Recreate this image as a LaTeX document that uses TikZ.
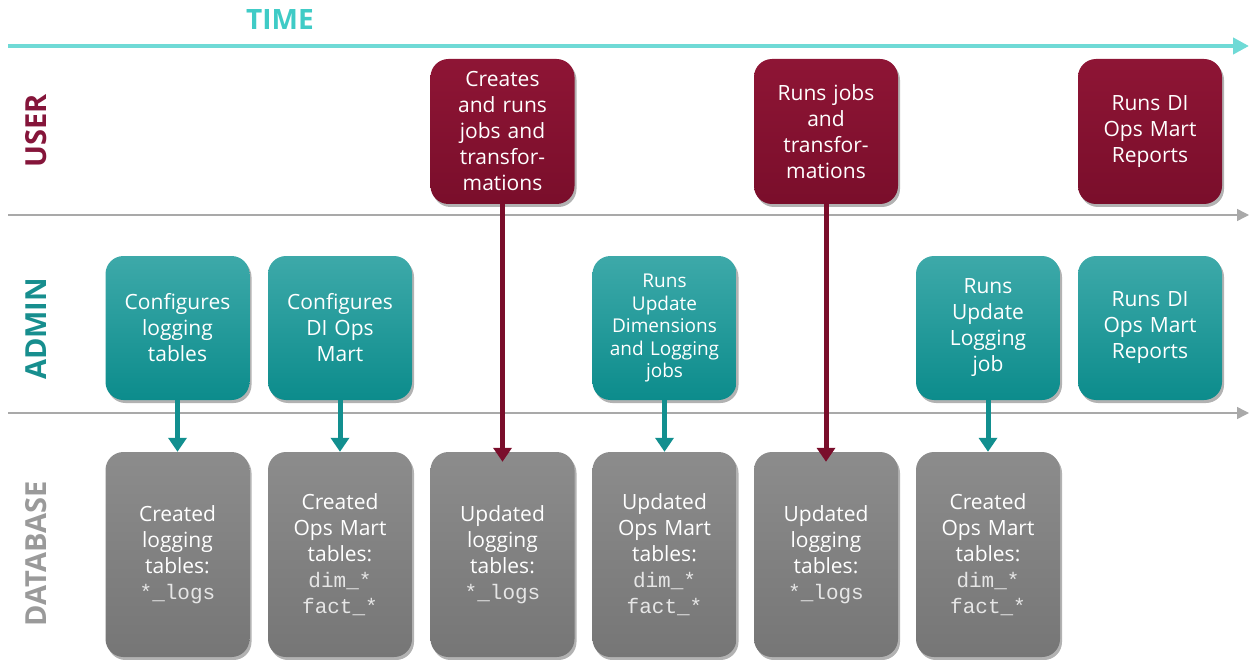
\documentclass[tikz,border=0pt]{standalone}
\usepackage{fontspec}
\setmainfont{Open Sans}
\newfontfamily\monofnt{Liberation Mono}
\usetikzlibrary{arrows.meta,shadows}
\definecolor{maroonA}{HTML}{8E1535}
\definecolor{maroonB}{HTML}{7A0E2B}
\definecolor{tealA}{HTML}{3DA9A9}
\definecolor{tealB}{HTML}{0C8C8C}
\definecolor{tealline}{HTML}{128F8F}
\definecolor{grayA}{HTML}{8C8C8C}
\definecolor{grayB}{HTML}{767676}
\definecolor{timec}{HTML}{6FDAD6}
\definecolor{timetext}{HTML}{3FCBC6}
\definecolor{lanegray}{HTML}{A9A9A9}
\definecolor{monotext}{HTML}{E6E6E6}
\definecolor{admintext}{HTML}{178E8E}
\definecolor{usertext}{HTML}{85153A}
\definecolor{dbtext}{HTML}{9A9A9A}
\tikzset{
  box/.style={rectangle, rounded corners=18pt, minimum width=144pt, text width=140pt,
    align=center, text=white, font=\fontsize{21}{26}\selectfont, inner sep=0pt,
    drop shadow={shadow xshift=2pt, shadow yshift=-3pt, opacity=0.3, fill=black}},
  userbox/.style={box, minimum height=145pt, top color=maroonA, bottom color=maroonB},
  adminbox/.style={box, minimum height=144pt, top color=tealA, bottom color=tealB},
  dbbox/.style={box, minimum height=205pt, top color=grayA, bottom color=grayB},
  lane/.style={draw=lanegray, line width=1.4pt, -{Triangle[width=12pt,length=12pt]}},
  tealarrow/.style={draw=tealline, line width=5pt, -{Triangle[width=18pt,length=14pt]}},
  maroonarrow/.style={draw=maroonB, line width=5pt, -{Triangle[width=18pt,length=14pt]}},
  lanelabel/.style={rotate=90, font=\bfseries\fontsize{29}{30}\selectfont},
}
\newcommand{\mt}[1]{{\monofnt\color{monotext}#1}}
\begin{document}
\begin{tikzpicture}[x=1pt,y=-1pt]
\useasboundingbox (0,0) rectangle (1249,660);
% time axis
\node[font=\bfseries\fontsize{28}{30}\selectfont, text=timetext] (time) at (280,20) {TIME};
\coordinate (t0) at (8,46);
\coordinate (t1) at (1249,46);
\draw[draw=timec, line width=4pt, -{Triangle[width=16pt,length=16pt]}] (t0) -- (t1);
% lanes
\coordinate (l1a) at (8,215);
\coordinate (l1b) at (1249,215);
\coordinate (l2a) at (8,413);
\coordinate (l2b) at (1249,413);
\draw[lane] (l1a) -- (l1b);
\draw[lane] (l2a) -- (l2b);
% lane labels
\node[lanelabel, text=usertext] (luser) at (36,131) {USER};
\node[lanelabel, text=admintext] (ladmin) at (36,329) {ADMIN};
\node[lanelabel, text=dbtext] (ldb) at (36,554) {DATABASE};
% user boxes
\node[userbox] (u3) at (502.5,131.5) {Creates\\and runs\\jobs and\\transfor-\\mations};
\node[userbox] (u5) at (826,131.5) {Runs jobs\\and\\transfor-\\mations};
\node[userbox] (u7) at (1150,131.5) {Runs DI\\Ops Mart\\Reports};
% admin boxes
\node[adminbox] (a1) at (177.5,328) {Configures\\logging\\tables};
\node[adminbox] (a2) at (340,328) {Configures\\DI Ops\\Mart};
\node[adminbox, font=\fontsize{19}{22.5}\selectfont] (a4) at (664.5,328) {Runs\\Update\\Dimensions\\and Logging\\jobs};
\node[adminbox] (a6) at (988,328) {Runs\\Update\\Logging\\job};
\node[adminbox] (a7) at (1150,328) {Runs DI\\Ops Mart\\Reports};
% database boxes
\node[dbbox] (d1) at (177.5,554.5) {Created\\logging\\tables:\\\mt{*\_logs}};
\node[dbbox] (d2) at (340,554.5) {Created\\Ops Mart\\tables:\\\mt{dim\_*}\\\mt{fact\_*}};
\node[dbbox] (d3) at (502.5,554.5) {Updated\\logging\\tables:\\\mt{*\_logs}};
\node[dbbox] (d4) at (664.5,554.5) {Updated\\Ops Mart\\tables:\\\mt{dim\_*}\\\mt{fact\_*}};
\node[dbbox] (d5) at (826,554.5) {Updated\\logging\\tables:\\\mt{*\_logs}};
\node[dbbox] (d6) at (988,554.5) {Created\\Ops Mart\\tables:\\\mt{dim\_*}\\\mt{fact\_*}};
% connectors
\draw[tealarrow] (a1.south) -- (d1.north);
\draw[tealarrow] (a2.south) -- (d2.north);
\draw[tealarrow] (a4.south) -- (d4.north);
\draw[tealarrow] (a6.south) -- (d6.north);
\draw[maroonarrow] (u3.south) -- ([yshift=-10pt]d3.north);
\draw[maroonarrow] (u5.south) -- ([yshift=-10pt]d5.north);
\end{tikzpicture}
\end{document}
